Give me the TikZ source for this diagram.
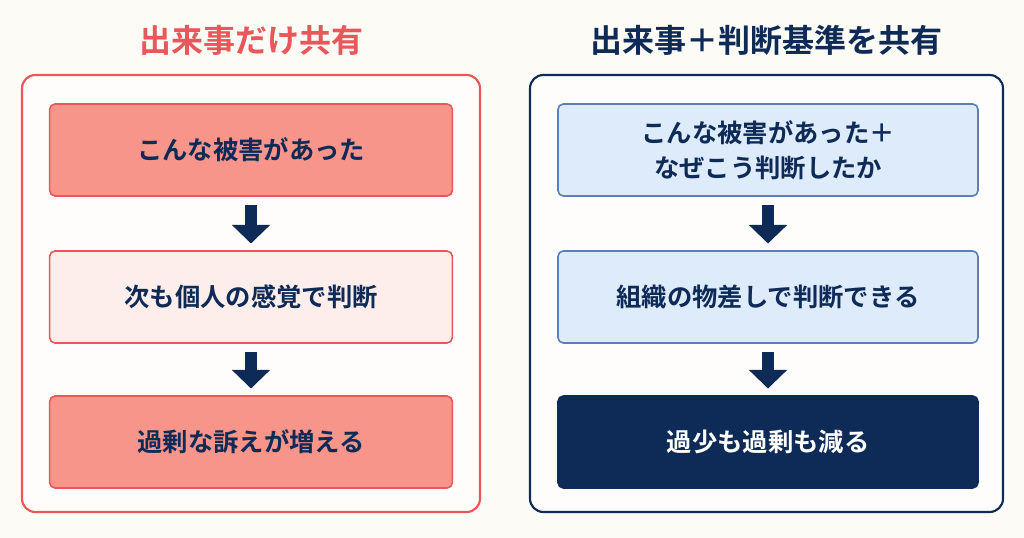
\documentclass[tikz,border=0pt]{standalone}
\usepackage{fontspec}
\setmainfont{Noto Sans CJK JP}[BoldFont={Noto Sans CJK JP Bold}]
\usetikzlibrary{arrows.meta}
\definecolor{bgc}{HTML}{FDFBF6}
\definecolor{redc}{HTML}{E8575A}
\definecolor{salmon}{HTML}{F8958A}
\definecolor{pinkc}{HTML}{FDEDEB}
\definecolor{navy}{HTML}{0E2A56}
\definecolor{lblue}{HTML}{DDEBFB}
\definecolor{bblue}{HTML}{5C7FB8}
\tikzset{
  panel/.style = {draw, line width=1.6pt, rounded corners=10pt, fill=white!60!bgc},
  box/.style = {draw, line width=1.2pt, rounded corners=4pt, minimum width=300pt,
    minimum height=69pt, align=center, font=\bfseries\fontsize{19}{26}\selectfont, text=navy},
  rbox/.style = {box, minimum width=302pt, draw=redc},
  bbox/.style = {box, minimum width=315pt, draw=bblue},
  down arrow/.style = {-{Triangle[width=28pt,length=14pt]}, line width=9pt, draw=navy,
    shorten >=5pt, shorten <=6pt},
  title/.style = {font=\bfseries\fontsize{24}{28}\selectfont}
}
\begin{document}
\begin{tikzpicture}[x=0.75pt,y=-0.75pt]
        \useasboundingbox[fill=bgc] (0,0) rectangle (1024,538);
        % left: only the events
        \draw[panel, draw=redc] (22,75) rectangle (480,512);
        \node[title, text=redc] (lt) at (251,40) {出来事だけ共有};
        \node[rbox, fill=salmon] (l1) at (251,150) {こんな被害があった};
        \node[rbox, fill=pinkc] (l2) at (251,297) {次も個人の感覚で判断};
        \node[rbox, fill=salmon] (l3) at (251,442) {過剰な訴えが増える};
        \draw[down arrow] (l1.south) -- (l2.north);
        \draw[down arrow] (l2.south) -- (l3.north);

        % right: events and criteria
        \draw[panel, draw=navy] (530,75) rectangle (1003,512);
        \node[title, text=navy] (rt) at (766,40) {出来事＋判断基準を共有};
        \node[bbox, fill=lblue] (r1) at (768,150) {こんな被害があった＋\\なぜこう判断したか};
        \node[bbox, fill=lblue] (r2) at (768,297) {組織の物差しで判断できる};
        \node[bbox, fill=navy, draw=navy, text=white] (r3) at (768,442) {過少も過剰も減る};
        \draw[down arrow] (r1.south) -- (r2.north);
        \draw[down arrow] (r2.south) -- (r3.north);
\end{tikzpicture}
\end{document}
